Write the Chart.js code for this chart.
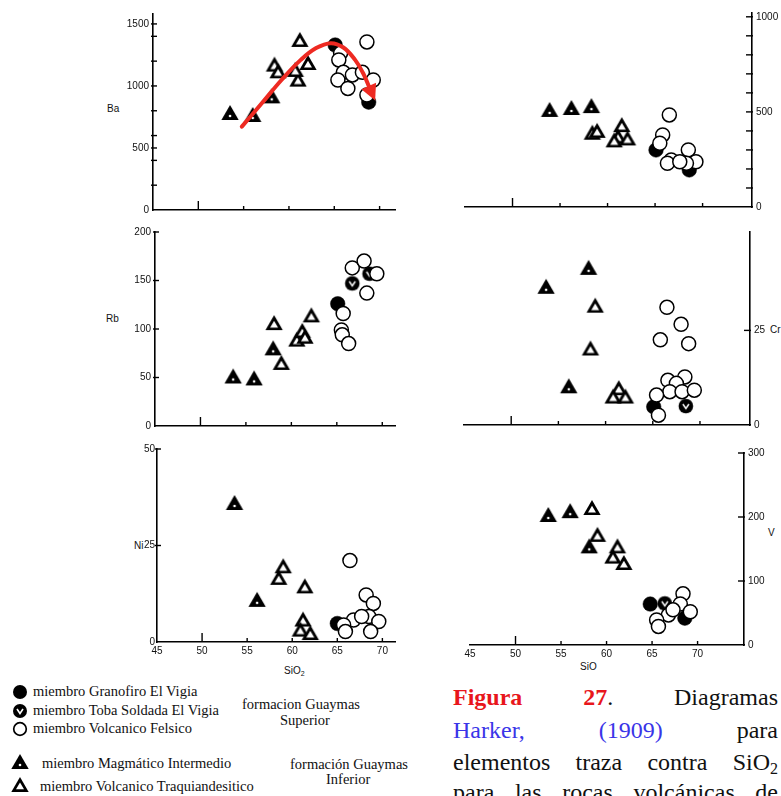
<!DOCTYPE html>
<html lang="es">
<head>
<meta charset="utf-8">
<title>Diagramas Harker</title>
<script src="https://cdn.jsdelivr.net/npm/chart.js@4.4.1/dist/chart.umd.min.js"></script>
<style>
  html, body { margin:0; padding:0; background:#fff; }
  #page { position:relative; width:781px; height:796px; overflow:hidden; background:#fff; }
  #page canvas { position:absolute; }
  .ax { position:absolute; font:10px "Liberation Sans", Arial, sans-serif; color:#111; line-height:10px; white-space:nowrap; }
  .ax sub { font-size:7px; vertical-align:-2px; line-height:0; }
  .lg { position:absolute; font:14.5px "Liberation Serif", "Times New Roman", serif; color:#111; line-height:15px; white-space:nowrap; }
  svg.mk { position:absolute; width:24px; height:24px; }
  #caption { position:absolute; left:440px; top:673px; width:341px; height:123px; background:#fff; }
  .cl { position:absolute; left:13px; width:325px; font:24px "Liberation Serif", "Times New Roman", serif; line-height:24px; color:#111; text-align:justify; text-align-last:justify; }
  .cl sub { font-size:16px; vertical-align:-4px; line-height:0; }
  .red { color:#e8161c; font-weight:bold; }
  .blue { color:#3a35e8; }
</style>
</head>
<body>
<div id="page">
  <!-- axis names -->
  <div class="ax" style="left:107px;top:104px;">Ba</div>
  <div class="ax" style="left:106px;top:314px;">Rb</div>
  <div class="ax" style="left:134px;top:541px;">Ni</div>
  <div class="ax" style="left:770px;top:325px;">Cr</div>
  <div class="ax" style="left:768px;top:528px;">V</div>
  <div class="ax" style="left:284px;top:666px;">SiO<sub>2</sub></div>
  <div class="ax" style="left:580px;top:662px;">SiO</div>

  <!-- legend -->
  <svg class="mk" viewBox="-12 -12 24 24" style="left:8px;top:680px;"><circle cx="0" cy="0" r="7" fill="#000"/></svg>
  <div class="lg" style="left:33px;top:684px;">miembro Granofiro El Vigia</div>
  <svg class="mk" viewBox="-12 -12 24 24" style="left:8px;top:699px;"><circle cx="0" cy="0" r="7" fill="#000"/><path d="M-3,-2 L0,2.5 L3,-2" stroke="#fff" stroke-width="1.6" fill="none"/></svg>
  <div class="lg" style="left:33px;top:703px;">miembro Toba Soldada El Vigia</div>
  <svg class="mk" viewBox="-12 -12 24 24" style="left:8px;top:717px;"><circle cx="0" cy="0" r="6.3" fill="#fff" stroke="#000" stroke-width="1.7"/></svg>
  <div class="lg" style="left:33px;top:721px;">miembro Volcanico Felsico</div>
  <div class="lg" style="left:242px;top:697px;">formacion Guaymas</div>
  <div class="lg" style="left:280px;top:713px;">Superior</div>

  <svg class="mk" viewBox="-12 -12 24 24" style="left:8px;top:752px;"><polygon points="0,-10 8.7,5 -8.7,5" fill="#000"/><circle cx="0" cy="1" r="1.3" fill="#fff"/></svg>
  <div class="lg" style="left:42px;top:756px;">miembro Magmático Intermedio</div>
  <svg class="mk" viewBox="-12 -12 24 24" style="left:8px;top:775px;"><polygon points="0,-10 8.7,5 -8.7,5" fill="#000"/><polygon points="0,-4.6 4,2.3 -4,2.3" fill="#fff"/></svg>
  <div class="lg" style="left:40px;top:779px;">miembro Volcanico Traquiandesitico</div>
  <div class="lg" style="left:290px;top:757px;">formación Guaymas</div>
  <div class="lg" style="left:326px;top:772px;">Inferior</div>

  <!-- caption -->
  <div id="caption">
    <div class="cl" style="top:12px;"><span class="red">Figura</span> <span class="red">27</span>. Diagramas</div>
    <div class="cl" style="top:45px;"><span class="blue">Harker,</span> <span class="blue">(1909)</span> para</div>
    <div class="cl" style="top:77px;">elementos traza contra SiO<sub>2</sub></div>
    <div class="cl" style="top:107px;">para las rocas volcánicas de</div>
  </div>
</div>

<script>
// ---------- shared SiO2 axis ----------
const siTicks = [45, 50, 55, 60, 65, 70];

// ---------- Ba ----------
const baTicks = [0, 200, 400, 500, 600, 800, 1000, 1200, 1400, 1500];
const baLabels = [0, 500, 1000, 1500];
const baGranofiro = [[65.1, 1330], [68.8, 870]];
const baToba = [];
const baFelsico = [[68.6, 1355], [65.7, 1265], [65.5, 1210], [66.0, 1110], [65.4, 1048], [66.5, 980],
                   [67.0, 1089], [68.1, 1110], [69.3, 1048], [68.6, 927]];
const baMagmatico = [[53.5, 766], [56.0, 750], [58.1, 900]];
const baTraqui = [[58.4, 1156], [58.8, 1102], [61.2, 1355], [62.1, 1169], [61.0, 1035], [60.7, 1113]];
// hand-drawn trend arrow
const baTrend = [[54.8, 672], [57.0, 860], [59.2, 1050], [61.3, 1210], [63.0, 1305], [64.6, 1345],
                 [66.0, 1310], [67.3, 1210], [68.2, 1100], [68.8, 1000]];

// ---------- upper right panel ----------
const trTicks = [0, 100, 200, 300, 400, 500, 600, 700, 800, 900, 1000];
const trLabels = [0, 500, 1000];
const trGranofiro = [[65.1, 300], [68.6, 195]];
const trToba = [];
const trFelsico = [[66.5, 484], [65.8, 379], [65.5, 335], [66.7, 247], [66.3, 230], [68.5, 300],
                   [69.3, 238], [68.3, 230], [67.6, 238]];
const trMagmatico = [[53.9, 500], [56.2, 510], [58.3, 520]];
const trTraqui = [[58.4, 380], [58.9, 390], [61.5, 420], [61.1, 360], [62.1, 350], [60.7, 340]];

// ---------- Rb ----------
const rbTicks = [0, 50, 100, 150, 200];
const rbLabels = [0, 50, 100, 150, 200];
const rbGranofiro = [[65.1, 126]];
const rbToba = [[68.6, 157], [66.7, 147]];
const rbFelsico = [[65.7, 116], [65.5, 99], [65.6, 94], [66.3, 85], [66.7, 163], [68.0, 170],
                   [69.4, 157], [68.3, 137]];
const rbMagmatico = [[53.6, 49], [55.9, 47], [58.0, 78]];
const rbTraqui = [[58.1, 104], [58.9, 63], [60.6, 87], [61.2, 96], [61.5, 90], [62.2, 112]];

// ---------- Cr ----------
const crTicks = [0, 25];
const crLabels = [0, 25];
const crGranofiro = [[65.1, 4.8]];
const crToba = [[68.5, 5.0]];
const crFelsico = [[66.5, 31.1], [68.0, 26.6], [65.8, 22.5], [68.8, 21.5], [66.6, 11.8], [68.4, 12.7],
                   [67.5, 11.0], [66.8, 8.8], [65.4, 7.9], [68.1, 8.8], [69.4, 9.2], [65.6, 2.6]];
const crMagmatico = [[53.7, 36], [58.2, 41], [56.1, 9.7]];
const crTraqui = [[58.9, 31], [58.4, 19.7], [61.4, 9.2], [60.8, 7.0], [62.1, 7.0]];

// ---------- Ni ----------
const niTicks = [0, 25, 50];
const niLabels = [0, 25, 50];
const niGranofiro = [[65.0, 4.8]];
const niToba = [];
const niFelsico = [[66.4, 21.1], [68.2, 12.2], [69.0, 10.0], [68.5, 6.6], [69.6, 5.3], [66.8, 5.7],
                   [65.7, 4.4], [65.9, 2.7], [68.7, 2.7], [67.7, 6.6]];
const niMagmatico = [[53.6, 35.5], [56.1, 10.4]];
const niTraqui = [[59.0, 19.1], [58.5, 16.1], [61.4, 13.9], [61.2, 5.3], [60.9, 2.7], [62.0, 1.8]];

// ---------- V ----------
const vTicks = [0, 100, 200, 300];
const vLabels = [0, 100, 200, 300];
const vGranofiro = [[64.8, 64], [68.6, 42]];
const vToba = [[66.4, 65]];
const vFelsico = [[68.4, 80], [68.1, 64], [69.2, 52], [66.8, 47], [65.5, 39], [65.7, 29], [67.3, 55]];
const vMagmatico = [[53.6, 200], [56.0, 206], [58.1, 151]];
const vTraqui = [[58.4, 211], [59.0, 169], [61.2, 151], [60.7, 135], [61.9, 125]];

// ---------- marker images ----------
function markCanvas(size, draw) {
  const c = document.createElement('canvas');
  c.width = c.height = size;
  draw(c.getContext('2d'), size / 2);
  return c;
}
function triPath(g, cx, cy, r) {
  g.beginPath();
  for (let k = 0; k < 3; k++) {
    const a = k * 2 * Math.PI / 3;
    const px = cx + Math.sin(a) * r, py = cy - Math.cos(a) * r;
    if (k) g.lineTo(px, py); else g.moveTo(px, py);
  }
  g.closePath();
}
const magmaticoImg = markCanvas(24, (g, c) => {
  triPath(g, c, c, 10); g.fillStyle = '#000'; g.fill();
  g.beginPath(); g.arc(c, c + 1, 1.3, 0, 2 * Math.PI); g.fillStyle = '#fff'; g.fill();
});
const traquiImg = markCanvas(24, (g, c) => {
  triPath(g, c, c, 10); g.fillStyle = '#000'; g.fill();
  triPath(g, c, c + 0.3, 4.6); g.fillStyle = '#fff'; g.fill();
});
const tobaImg = markCanvas(18, (g, c) => {
  g.beginPath(); g.arc(c, c, 7.3, 0, 2 * Math.PI); g.fillStyle = '#000'; g.fill();
  g.strokeStyle = '#fff'; g.lineWidth = 1.5;
  g.beginPath(); g.moveTo(c - 3, c - 2); g.lineTo(c, c + 2.5); g.lineTo(c + 3, c - 2); g.stroke();
});

const toXY = arr => arr.map(([x, y]) => ({ x, y }));

function groupSets(g) {
  const base = { showLine: false, clip: false, pointHoverRadius: 0 };
  return [
    Object.assign({ label: 'miembro Volcanico Felsico', data: toXY(g.felsico), order: 1,
      pointStyle: 'circle', pointRadius: 7, pointBackgroundColor: '#fff', pointBorderColor: '#000', pointBorderWidth: 1.5 }, base),
    Object.assign({ label: 'miembro Volcanico Traquiandesitico', data: toXY(g.traqui), order: 2,
      pointStyle: traquiImg, pointRadius: 8 }, base),
    Object.assign({ label: 'miembro Granofiro El Vigia', data: toXY(g.granofiro), order: 3,
      pointStyle: 'circle', pointRadius: 7.3, pointBackgroundColor: '#000', pointBorderColor: '#000', pointBorderWidth: 0.5 }, base),
    Object.assign({ label: 'miembro Toba Soldada El Vigia', data: toXY(g.toba), order: 4,
      pointStyle: tobaImg, pointRadius: 7 }, base),
    Object.assign({ label: 'miembro Magmático Intermedio', data: toXY(g.magmatico), order: 5,
      pointStyle: magmaticoImg, pointRadius: 8 }, base)
  ];
}

// short inward tick marks on every axis
const innerTicks = {
  id: 'innerTicks',
  beforeDatasetsDraw(chart) {
    const { ctx, chartArea: a } = chart;
    const xs = chart.scales.x, ys = chart.scales.y;
    ctx.save();
    ctx.strokeStyle = '#000';
    ctx.lineWidth = 1.4;
    const seg = (x1, y1, x2, y2) => { ctx.beginPath(); ctx.moveTo(x1, y1); ctx.lineTo(x2, y2); ctx.stroke(); };
    xs.ticks.forEach(t => {
      if (t.value === xs.min) return;
      const px = xs.getPixelForValue(t.value);
      seg(px, a.bottom, px, a.bottom - (t.value === 50 ? 9 : 4));
    });
    ys.ticks.forEach(t => {
      if (t.value === 0) return;
      const py = ys.getPixelForValue(t.value);
      if (ys.position === 'left') seg(a.left - 2, py, a.left + 4, py);
      else seg(a.right - 6, py, a.right + 1, py);
    });
    ctx.restore();
  }
};

// arrow head at the end of the trend line
const arrowHead = {
  id: 'arrowHead',
  afterDatasetsDraw(chart) {
    const idx = chart.data.datasets.findIndex(d => d.isTrend);
    if (idx < 0) return;
    const pts = chart.getDatasetMeta(idx).data;
    const b = pts[pts.length - 1], a = pts[pts.length - 2];
    const useCp = b.cp1x !== undefined && (b.cp1x !== b.x || b.cp1y !== b.y);
    const fx = useCp ? b.cp1x : a.x;
    const fy = useCp ? b.cp1y : a.y;
    let dx = b.x - fx, dy = b.y - fy;
    const L = Math.hypot(dx, dy) || 1; dx /= L; dy /= L;
    const len = 16, hw = 8;
    const ctx = chart.ctx;
    ctx.save();
    ctx.fillStyle = '#ee2a22';
    ctx.beginPath();
    ctx.moveTo(b.x + dx * len, b.y + dy * len);
    ctx.lineTo(b.x - dy * hw, b.y + dx * hw);
    ctx.lineTo(b.x + dy * hw, b.y - dx * hw);
    ctx.closePath();
    ctx.fill();
    ctx.restore();
  }
};

const page = document.getElementById('page');
const tickFont = { family: '"Liberation Sans", Arial, sans-serif', size: 10 };

// cv: canvas box on the page; area: plot rectangle on the page
function panel(cv, area, opt) {
  const c = document.createElement('canvas');
  c.width = cv.w; c.height = cv.h;
  Object.assign(c.style, { left: cv.x + 'px', top: cv.y + 'px', width: cv.w + 'px', height: cv.h + 'px' });
  page.appendChild(c);
  const left = opt.yPos === 'left';
  const yAxisW = left ? area.l - cv.x : cv.x + cv.w - area.r;
  const xAxisH = cv.y + cv.h - area.b;
  const padding = {
    left: left ? 0 : area.l - cv.x,
    right: left ? cv.x + cv.w - area.r : 0,
    top: area.t - cv.y,
    bottom: 0
  };
  const datasets = groupSets(opt.groups);
  if (opt.trend) {
    datasets.unshift({ label: 'tendencia', isTrend: true, data: toXY(opt.trend), showLine: true, tension: 0.4,
      borderColor: '#ee2a22', borderWidth: 4, borderCapStyle: 'round', pointRadius: 0, pointHoverRadius: 0,
      order: 0, clip: false });
  }
  new Chart(c, {
    type: 'scatter',
    data: { datasets },
    options: {
      responsive: false, animation: false, devicePixelRatio: 1,
      events: [],
      layout: { padding },
      plugins: { legend: { display: false }, tooltip: { enabled: false } },
      scales: {
        x: {
          type: 'linear', min: 45, max: opt.xMax,
          afterBuildTicks: s => { s.ticks = siTicks.map(v => ({ value: v })); },
          afterFit: s => { s.height = xAxisH; },
          ticks: { display: opt.xLabels, autoSkip: false, maxRotation: 0, padding: 3, font: tickFont, color: '#111',
                   callback: v => String(v) },
          grid: { display: true, drawOnChartArea: false, drawTicks: false },
          border: { display: true, color: '#000', width: 1.6 }
        },
        y: {
          type: 'linear', position: opt.yPos, min: 0, max: opt.yMax,
          afterBuildTicks: s => { s.ticks = opt.yTicks.map(v => ({ value: v })); },
          afterFit: s => { s.width = yAxisW; },
          ticks: { autoSkip: false, padding: opt.yPad === undefined ? 4 : opt.yPad, font: tickFont, color: '#111',
                   callback: v => opt.yLabels.includes(v) ? String(v) : '' },
          grid: { display: true, drawOnChartArea: false, drawTicks: false },
          border: { display: true, color: '#000', width: 1.6 }
        }
      }
    },
    plugins: [innerTicks, arrowHead]
  });
}

// Ba
panel({ x: 100, y: 0, w: 310, h: 228 }, { l: 153, t: 14, r: 395, b: 210 },
  { yPos: 'left', xMax: 71.7, yMax: 1580, yTicks: baTicks, yLabels: baLabels, xLabels: false, trend: baTrend,
    groups: { felsico: baFelsico, traqui: baTraqui, granofiro: baGranofiro, toba: baToba, magmatico: baMagmatico } });
// upper right
panel({ x: 450, y: 0, w: 331, h: 228 }, { l: 465, t: 13, r: 752, b: 207 },
  { yPos: 'right', xMax: 75.2, yMax: 1020, yTicks: trTicks, yLabels: trLabels, xLabels: false,
    groups: { felsico: trFelsico, traqui: trTraqui, granofiro: trGranofiro, toba: trToba, magmatico: trMagmatico } });
// Rb
panel({ x: 100, y: 222, w: 310, h: 222 }, { l: 155, t: 232, r: 395, b: 426 },
  { yPos: 'left', xMax: 71.4, yMax: 200, yTicks: rbTicks, yLabels: rbLabels, xLabels: false,
    groups: { felsico: rbFelsico, traqui: rbTraqui, granofiro: rbGranofiro, toba: rbToba, magmatico: rbMagmatico } });
// Cr
panel({ x: 450, y: 222, w: 331, h: 222 }, { l: 464, t: 232, r: 750, b: 425 },
  { yPos: 'right', xMax: 75.3, yMax: 51, yTicks: crTicks, yLabels: crLabels, xLabels: false,
    groups: { felsico: crFelsico, traqui: crTraqui, granofiro: crGranofiro, toba: crToba, magmatico: crMagmatico } });
// Ni
panel({ x: 100, y: 440, w: 310, h: 230 }, { l: 157, t: 449, r: 395, b: 642 },
  { yPos: 'left', xMax: 71.4, yMax: 50, yTicks: niTicks, yLabels: niLabels, xLabels: true, yPad: 2,
    groups: { felsico: niFelsico, traqui: niTraqui, granofiro: niGranofiro, toba: niToba, magmatico: niMagmatico } });
// V
panel({ x: 455, y: 440, w: 326, h: 230 }, { l: 470, t: 453, r: 744, b: 645 },
  { yPos: 'right', xMax: 75.1, yMax: 300, yTicks: vTicks, yLabels: vLabels, xLabels: true,
    groups: { felsico: vFelsico, traqui: vTraqui, granofiro: vGranofiro, toba: vToba, magmatico: vMagmatico } });
</script>
</body>
</html>
